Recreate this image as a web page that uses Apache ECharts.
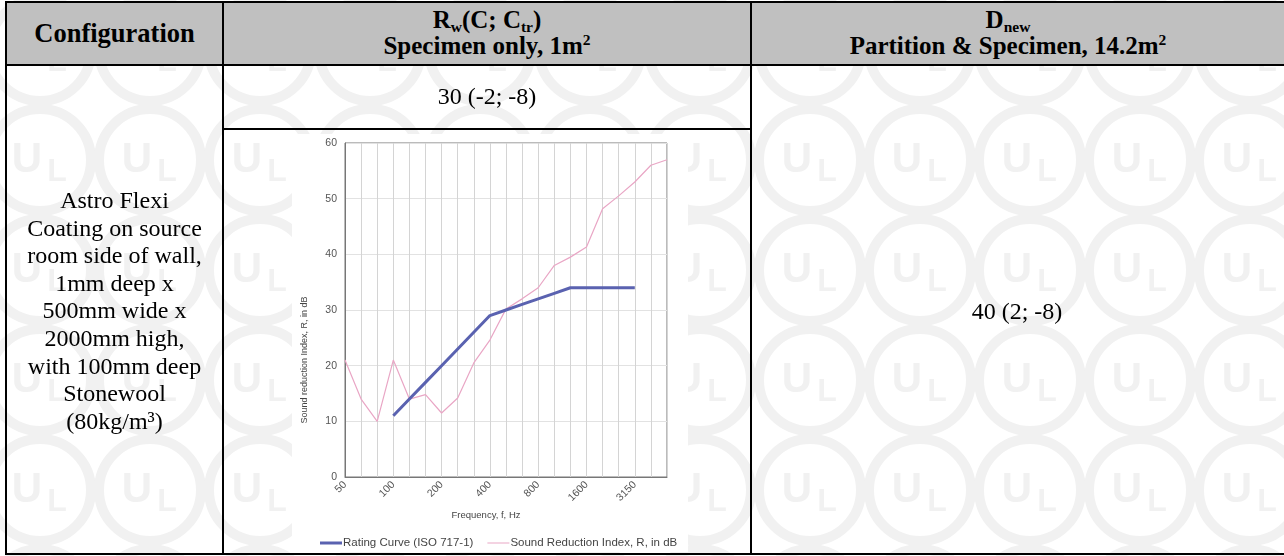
<!DOCTYPE html>
<html>
<head>
<meta charset="utf-8">
<script src="https://cdn.jsdelivr.net/npm/echarts@6/dist/echarts.min.js"></script>
<style>
  html, body { margin:0; padding:0; background:#fff; }
  #wrap { position:relative; width:1284px; height:556px; overflow:hidden; }
  #chart { position:absolute; left:0; top:0; width:1284px; height:556px; }
  .ov { position:absolute; pointer-events:none; }
  .hdr { background:#c0c0c0; }
  .b { background:#000; }
  .t { font-family:"Liberation Serif","Times New Roman",serif; color:#000; text-align:center; white-space:nowrap; }
  .hb { font-weight:bold; font-size:25px; line-height:26px; }
  .body { font-size:24px; line-height:27.6px; }
  sub, sup { font-size:0.62em; line-height:0; }
  sub { vertical-align:-0.28em; }
  sup { vertical-align:0.55em; }
</style>
</head>
<body>
<div id="wrap">
  <div id="chart"></div>
  <!-- header background -->
  <div class="ov hdr" style="left:6px;top:3px;width:1278px;height:62px;"></div>
  <!-- borders -->
  <div class="ov b" style="left:5px;top:1px;width:1279px;height:2px;"></div>
  <div class="ov b" style="left:5px;top:64px;width:1279px;height:2px;"></div>
  <div class="ov b" style="left:5px;top:553px;width:1279px;height:2px;"></div>
  <div class="ov b" style="left:5px;top:1px;width:2px;height:554px;"></div>
  <div class="ov b" style="left:222px;top:1px;width:2px;height:554px;"></div>
  <div class="ov b" style="left:750px;top:1px;width:2px;height:554px;"></div>
  <div class="ov b" style="left:222px;top:128px;width:530px;height:2px;"></div>
  <!-- header texts -->
  <div class="ov t hb" style="left:7px;top:20px;width:215px;font-size:26.5px;">Configuration</div>
  <div class="ov t hb" style="left:224px;top:7px;width:526px;">R<sub>w</sub>(C; C<sub>tr</sub>)<br>Specimen only, 1m<sup>2</sup></div>
  <div class="ov t hb" style="left:752px;top:7px;width:512px;">D<sub>new</sub><br>Partition &amp; Specimen, 14.2m<sup>2</sup></div>
  <!-- body texts -->
  <div class="ov t body" style="left:7px;top:187px;width:215px;">Astro Flexi<br>Coating on source<br>room side of wall,<br>1mm deep x<br>500mm wide x<br>2000mm high,<br>with 100mm deep<br>Stonewool<br>(80kg/m³)</div>
  <div class="ov t body" style="left:224px;top:83px;width:526px;">30 (-2; -8)</div>
  <div class="ov t body" style="left:752px;top:298px;width:530px;">40 (2; -8)</div>
</div>
<script>
// ---- data ----
const freqs = ['50','63','80','100','125','160','200','250','315','400','500','630','800','1000','1250','1600','2000','2500','3150','4000','5000'];
const ratingCurve = [null,null,null,11,14,17,20,23,26,29,30,31,32,33,34,34,34,34,34,null,null];
const soundReduction = [21,14,10,21,14,14.8,11.5,14.2,20.5,24.6,30.2,32,34,38,39.5,41.3,48.2,50.5,53,56,57];
const yTicks = [0,10,20,30,40,50,60];
const seriesNames = ['Rating Curve (ISO 717-1)','Sound Reduction Index, R, in dB'];

// watermark logo positions (decorative background)
const wmX = [40,150,260,370,480,590,700,810,920,1030,1140,1250];
const wmY = [50,160,270,380,490,600];

const wmColor = '#f1f1f1';
const graphics = [];
wmX.forEach(function(x){
  wmY.forEach(function(y){
    graphics.push({type:'circle', z:-100, shape:{cx:x, cy:y, r:51}, style:{fill:'none', stroke:wmColor, lineWidth:10}});
    graphics.push({type:'text', z:-100, x:x-13, y:y, style:{text:'U', fill:wmColor, font:'bold 42px "Liberation Sans", Arial', align:'center', verticalAlign:'middle'}});
    graphics.push({type:'text', z:-100, x:x+17, y:y+12, style:{text:'L', fill:wmColor, font:'bold 32px "Liberation Sans", Arial', align:'center', verticalAlign:'middle'}});
  });
});
// chart image background
graphics.push({type:'rect', z:-50, shape:{x:292, y:134, width:396, height:418}, style:{fill:'#fff'}});

// legend line icons (bounding box 22x3, visible band inside)
const iconThick = 'path://M0,0H22V3H0Z';
const iconThin = 'path://M0,0L0,0M22,3L22,3M0,1H22V2H0Z';

const chart = echarts.init(document.getElementById('chart'), null, {renderer:'canvas'});
chart.setOption({
  animation:false,
  graphic: graphics,
  textStyle:{fontFamily:'"Liberation Sans", Arial, sans-serif'},
  grid:{left:345, top:143, width:322, height:334, show:true, backgroundColor:'#fff', borderColor:'#777', borderWidth:1},
  legend:{
    left:315, top:532, itemWidth:22, itemHeight:3, itemGap:14,
    textStyle:{fontSize:11.5, color:'#444', padding:[0,0,0,-4]},
    data:[
      {name:seriesNames[0], icon:iconThick, itemStyle:{color:'#5a62b0'}},
      {name:seriesNames[1], icon:iconThin, itemStyle:{color:'#e9a6c5'}}
    ]
  },
  xAxis:{
    type:'category', data:freqs, boundaryGap:false,
    name:'Frequency, f, Hz', nameLocation:'middle', nameGap:33,
    nameTextStyle:{fontSize:9.5, color:'#444', padding:[0,40,0,0]},
    axisLine:{lineStyle:{color:'#777'}},
    axisTick:{show:false},
    axisLabel:{interval:2, rotate:45, fontSize:10.5, color:'#555', margin:6},
    splitLine:{show:true, interval:0, lineStyle:{color:'#d4d4d4', width:1}}
  },
  yAxis:{
    type:'value', min:yTicks[0], max:yTicks[yTicks.length-1], interval:10,
    name:'Sound reduction Index, R, in dB', nameLocation:'middle', nameGap:36, nameRotate:90,
    nameTextStyle:{fontSize:9, color:'#444', padding:[0,100,0,0]},
    axisLine:{show:true, lineStyle:{color:'#777'}},
    axisTick:{show:false},
    axisLabel:{fontSize:10.5, color:'#555', margin:8},
    splitLine:{show:true, lineStyle:{color:'#e2e2e2'}}
  },
  series:[
    {name:seriesNames[0], type:'line', data:ratingCurve, symbol:'none', connectNulls:false,
     lineStyle:{color:'#5a62b0', width:3}, itemStyle:{color:'#5a62b0'}, z:3},
    {name:seriesNames[1], type:'line', data:soundReduction, symbol:'none',
     lineStyle:{color:'#e9a6c5', width:1.2}, itemStyle:{color:'#e9a6c5'}, z:2}
  ]
});
</script>
</body>
</html>
